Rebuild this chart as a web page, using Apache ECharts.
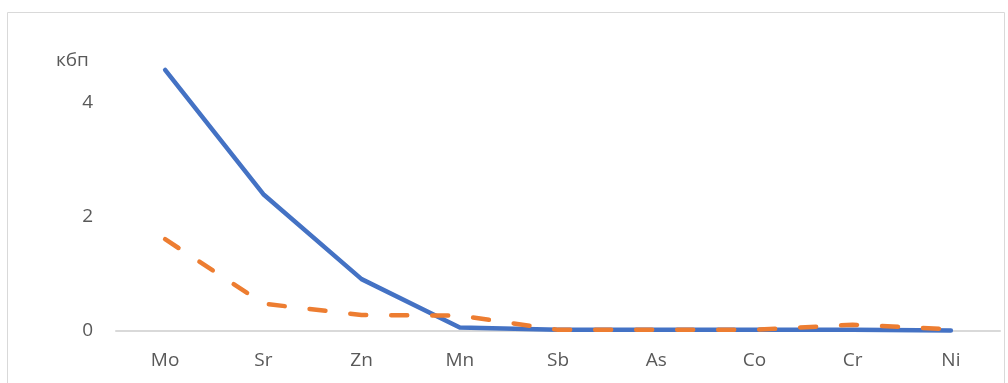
<!DOCTYPE html>
<html><head><meta charset="utf-8">
<script src="https://cdn.jsdelivr.net/npm/echarts@6/dist/echarts.min.js"></script>
<style>html,body{margin:0;padding:0;background:#fff}#c{width:1008px;height:383px}</style>
</head><body><div id="c"></div>
<script>
const categories = ['Mo','Sr','Zn','Mn','Sb','As','Co','Cr','Ni'];
const seriesA = [4.58, 2.40, 0.91, 0.06, 0.02, 0.02, 0.02, 0.02, 0.01];
const seriesB = [1.61, 0.48, 0.28, 0.27, 0.02, 0.02, 0.02, 0.11, 0.03];
const yTicks = [0, 2, 4];
const yName = 'кбп';
const font = '"Open Sans", "Noto Sans", sans-serif';
const chart = echarts.init(document.getElementById('c'));
chart.setOption({
  animation: false,
  title: {text: yName, left: 56, top: 51, padding: 0, textStyle: {fontFamily: font, fontSize: 19, fontWeight: 'normal', color: '#595959'}},
  graphic: [{type: 'rect', shape: {x: 7.5, y: 12.5, width: 997, height: 400}, style: {fill: 'none', stroke: '#d9d9d9', lineWidth: 1}, silent: true}],
  grid: {left: 116, right: 8, top: 46, bottom: 52},
  xAxis: {
    type: 'category', data: categories, boundaryGap: true,
    axisLine: {lineStyle: {color: '#d9d9d9', width: 2}},
    axisTick: {show: false},
    axisLabel: {color: '#595959', fontFamily: font, fontSize: 19, margin: 20}
  },
  yAxis: {
    type: 'value', min: 0, max: 5, interval: 2,
    axisLine: {show: false}, axisTick: {show: false}, splitLine: {show: false},
    axisLabel: {color: '#595959', fontFamily: font, fontSize: 19, margin: 23, showMaxLabel: false,
      formatter: v => yTicks.includes(v) ? String(v) : ''}
  },
  series: [
    {type: 'line', data: seriesA, symbol: 'none', lineStyle: {color: '#4472C4', width: 4.5, cap: 'round', join: 'round'}, z: 2},
    {type: 'line', data: seriesB, symbol: 'none', lineStyle: {color: '#ED7D31', width: 4.5, type: [16, 25], cap: 'round'}, z: 3}
  ]
});
</script></body></html>
